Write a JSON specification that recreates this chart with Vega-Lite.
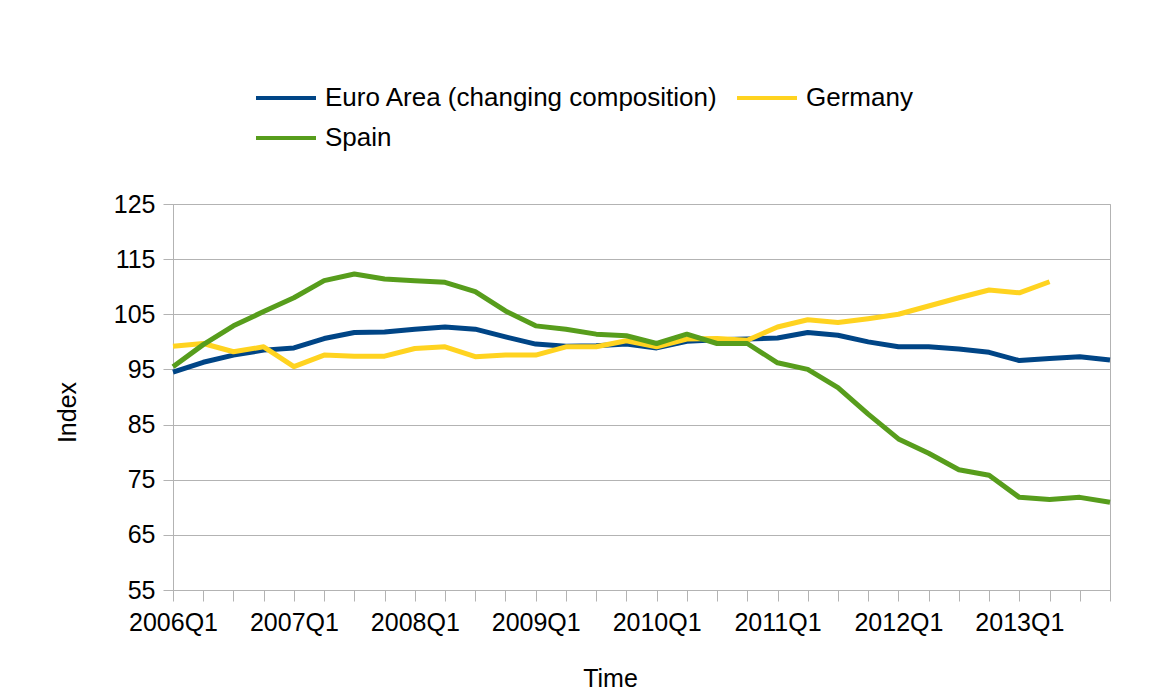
{
  "$schema": "https://vega.github.io/schema/vega-lite/v6.json",
  "width": 937,
  "height": 386,
  "autosize": "none",
  "padding": {"left": 173, "top": 204, "right": 44, "bottom": 110},
  "background": "white",
  "config": {
    "font": "Liberation Sans",
    "view": {"stroke": "#b3b3b3", "strokeWidth": 1}
  },
  "data": {
    "values": [
      {"q": "2006Q1", "s": "Euro Area (changing composition)", "v": 94.5},
      {"q": "2006Q2", "s": "Euro Area (changing composition)", "v": 96.3},
      {"q": "2006Q3", "s": "Euro Area (changing composition)", "v": 97.6},
      {"q": "2006Q4", "s": "Euro Area (changing composition)", "v": 98.5},
      {"q": "2007Q1", "s": "Euro Area (changing composition)", "v": 98.9},
      {"q": "2007Q2", "s": "Euro Area (changing composition)", "v": 100.6},
      {"q": "2007Q3", "s": "Euro Area (changing composition)", "v": 101.7},
      {"q": "2007Q4", "s": "Euro Area (changing composition)", "v": 101.8},
      {"q": "2008Q1", "s": "Euro Area (changing composition)", "v": 102.3},
      {"q": "2008Q2", "s": "Euro Area (changing composition)", "v": 102.7},
      {"q": "2008Q3", "s": "Euro Area (changing composition)", "v": 102.3},
      {"q": "2008Q4", "s": "Euro Area (changing composition)", "v": 100.9},
      {"q": "2009Q1", "s": "Euro Area (changing composition)", "v": 99.6},
      {"q": "2009Q2", "s": "Euro Area (changing composition)", "v": 99.2},
      {"q": "2009Q3", "s": "Euro Area (changing composition)", "v": 99.3},
      {"q": "2009Q4", "s": "Euro Area (changing composition)", "v": 99.6},
      {"q": "2010Q1", "s": "Euro Area (changing composition)", "v": 98.9},
      {"q": "2010Q2", "s": "Euro Area (changing composition)", "v": 100.1},
      {"q": "2010Q3", "s": "Euro Area (changing composition)", "v": 100.4},
      {"q": "2010Q4", "s": "Euro Area (changing composition)", "v": 100.5},
      {"q": "2011Q1", "s": "Euro Area (changing composition)", "v": 100.7},
      {"q": "2011Q2", "s": "Euro Area (changing composition)", "v": 101.7},
      {"q": "2011Q3", "s": "Euro Area (changing composition)", "v": 101.2},
      {"q": "2011Q4", "s": "Euro Area (changing composition)", "v": 100.0},
      {"q": "2012Q1", "s": "Euro Area (changing composition)", "v": 99.1},
      {"q": "2012Q2", "s": "Euro Area (changing composition)", "v": 99.1},
      {"q": "2012Q3", "s": "Euro Area (changing composition)", "v": 98.7},
      {"q": "2012Q4", "s": "Euro Area (changing composition)", "v": 98.1},
      {"q": "2013Q1", "s": "Euro Area (changing composition)", "v": 96.6},
      {"q": "2013Q2", "s": "Euro Area (changing composition)", "v": 97.0},
      {"q": "2013Q3", "s": "Euro Area (changing composition)", "v": 97.3},
      {"q": "2013Q4", "s": "Euro Area (changing composition)", "v": 96.7},
      {"q": "2006Q1", "s": "Germany", "v": 99.2},
      {"q": "2006Q2", "s": "Germany", "v": 99.7},
      {"q": "2006Q3", "s": "Germany", "v": 98.2},
      {"q": "2006Q4", "s": "Germany", "v": 99.1},
      {"q": "2007Q1", "s": "Germany", "v": 95.5},
      {"q": "2007Q2", "s": "Germany", "v": 97.6},
      {"q": "2007Q3", "s": "Germany", "v": 97.4},
      {"q": "2007Q4", "s": "Germany", "v": 97.4},
      {"q": "2008Q1", "s": "Germany", "v": 98.8},
      {"q": "2008Q2", "s": "Germany", "v": 99.1},
      {"q": "2008Q3", "s": "Germany", "v": 97.3},
      {"q": "2008Q4", "s": "Germany", "v": 97.6},
      {"q": "2009Q1", "s": "Germany", "v": 97.6},
      {"q": "2009Q2", "s": "Germany", "v": 99.1},
      {"q": "2009Q3", "s": "Germany", "v": 99.1},
      {"q": "2009Q4", "s": "Germany", "v": 100.2},
      {"q": "2010Q1", "s": "Germany", "v": 99.1},
      {"q": "2010Q2", "s": "Germany", "v": 100.5},
      {"q": "2010Q3", "s": "Germany", "v": 100.6},
      {"q": "2010Q4", "s": "Germany", "v": 100.3},
      {"q": "2011Q1", "s": "Germany", "v": 102.7},
      {"q": "2011Q2", "s": "Germany", "v": 104.0},
      {"q": "2011Q3", "s": "Germany", "v": 103.5},
      {"q": "2011Q4", "s": "Germany", "v": 104.2},
      {"q": "2012Q1", "s": "Germany", "v": 105.0},
      {"q": "2012Q2", "s": "Germany", "v": 106.5},
      {"q": "2012Q3", "s": "Germany", "v": 108.0},
      {"q": "2012Q4", "s": "Germany", "v": 109.4},
      {"q": "2013Q1", "s": "Germany", "v": 108.9},
      {"q": "2013Q2", "s": "Germany", "v": 110.9},
      {"q": "2006Q1", "s": "Spain", "v": 95.5},
      {"q": "2006Q2", "s": "Spain", "v": 99.5},
      {"q": "2006Q3", "s": "Spain", "v": 102.9},
      {"q": "2006Q4", "s": "Spain", "v": 105.5},
      {"q": "2007Q1", "s": "Spain", "v": 108.0},
      {"q": "2007Q2", "s": "Spain", "v": 111.1},
      {"q": "2007Q3", "s": "Spain", "v": 112.3},
      {"q": "2007Q4", "s": "Spain", "v": 111.4},
      {"q": "2008Q1", "s": "Spain", "v": 111.1},
      {"q": "2008Q2", "s": "Spain", "v": 110.8},
      {"q": "2008Q3", "s": "Spain", "v": 109.1},
      {"q": "2008Q4", "s": "Spain", "v": 105.6},
      {"q": "2009Q1", "s": "Spain", "v": 102.9},
      {"q": "2009Q2", "s": "Spain", "v": 102.3},
      {"q": "2009Q3", "s": "Spain", "v": 101.4},
      {"q": "2009Q4", "s": "Spain", "v": 101.1},
      {"q": "2010Q1", "s": "Spain", "v": 99.7},
      {"q": "2010Q2", "s": "Spain", "v": 101.4},
      {"q": "2010Q3", "s": "Spain", "v": 99.7},
      {"q": "2010Q4", "s": "Spain", "v": 99.7},
      {"q": "2011Q1", "s": "Spain", "v": 96.2},
      {"q": "2011Q2", "s": "Spain", "v": 95.0},
      {"q": "2011Q3", "s": "Spain", "v": 91.7},
      {"q": "2011Q4", "s": "Spain", "v": 86.9},
      {"q": "2012Q1", "s": "Spain", "v": 82.4},
      {"q": "2012Q2", "s": "Spain", "v": 79.8},
      {"q": "2012Q3", "s": "Spain", "v": 76.8},
      {"q": "2012Q4", "s": "Spain", "v": 75.8},
      {"q": "2013Q1", "s": "Spain", "v": 71.8},
      {"q": "2013Q2", "s": "Spain", "v": 71.4},
      {"q": "2013Q3", "s": "Spain", "v": 71.8},
      {"q": "2013Q4", "s": "Spain", "v": 70.9}
    ]
  },
  "mark": {"type": "line", "strokeWidth": 5, "strokeJoin": "round", "clip": false},
  "encoding": {
    "x": {
      "field": "q",
      "type": "ordinal",
      "sort": null,
      "scale": {"type": "point", "padding": 0},
      "axis": {
        "title": "Time",
        "titleFont": "Liberation Sans",
        "titleFontSize": 25,
        "titleFontWeight": "normal",
        "titleColor": "black",
        "titleX": 437,
        "titleY": 88,
        "titleBaseline": "middle",
        "titleAlign": "center",
        "labelAngle": 0,
        "labelFont": "Liberation Sans",
        "labelFontSize": 25,
        "labelColor": "black",
        "labelPadding": 9,
        "labelOverlap": false,
        "labelExpr": "indexof(datum.label, 'Q1') >= 0 ? datum.label : ''",
        "tickColor": "#b3b3b3",
        "tickSize": 11,
        "domainColor": "#b3b3b3",
        "grid": false
      }
    },
    "y": {
      "field": "v",
      "type": "quantitative",
      "scale": {"domain": [55, 125], "nice": false, "zero": false},
      "axis": {
        "title": "Index",
        "titleFont": "Liberation Sans",
        "titleFontSize": 25,
        "titleFontWeight": "normal",
        "titleColor": "black",
        "titleX": -106,
        "titleY": 208,
        "titleBaseline": "middle",
        "titleAlign": "center",
        "titleAngle": -90,
        "values": [55, 65, 75, 85, 95, 105, 115, 125],
        "labelFont": "Liberation Sans",
        "labelFontSize": 25,
        "labelColor": "black",
        "labelPadding": 8,
        "tickColor": "#b3b3b3",
        "tickSize": 10,
        "domainColor": "#b3b3b3",
        "grid": true,
        "gridColor": "#b3b3b3",
        "gridWidth": 1
      }
    },
    "color": {
      "field": "s",
      "type": "nominal",
      "scale": {
        "domain": ["Euro Area (changing composition)", "Germany", "Spain"],
        "range": ["#004586", "#ffd320", "#579d1c"]
      },
      "legend": {
        "title": null,
        "orient": "none",
        "direction": "horizontal",
        "legendX": 100,
        "legendY": -119,
        "columns": 2,
        "columnPadding": 10,
        "rowPadding": 14,
        "symbolType": "M-3,0H3",
        "symbolSize": 400,
        "symbolStrokeWidth": 4,
        "labelFont": "Liberation Sans",
        "labelFontSize": 26,
        "labelColor": "black",
        "labelOffset": 26,
        "labelLimit": 600
      }
    }
  }
}
